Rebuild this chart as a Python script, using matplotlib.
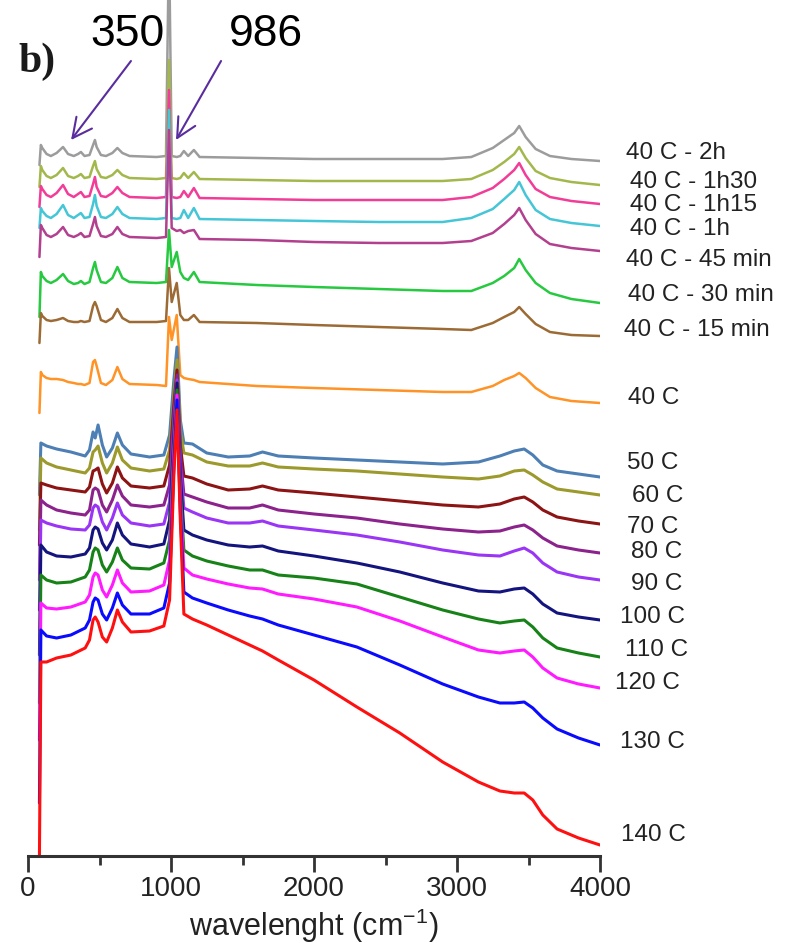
import numpy as np
import matplotlib
matplotlib.use("Agg")
import matplotlib.pyplot as plt

plt.rcParams['font.family'] = ['Liberation Sans', 'DejaVu Sans']
plt.rcParams['mathtext.fontset'] = 'custom'
plt.rcParams['mathtext.rm'] = 'Liberation Sans'
plt.rcParams['mathtext.it'] = 'Liberation Sans:italic'

# ---------------- data (Raman intensity, arbitrary units, stacked) ----------------
# wavenumber anchors (cm-1) read for the 40 C isothermal series
WN_TIME = [80, 90, 100, 130, 160, 200, 245, 280, 320, 350, 370, 395, 430, 455, 468,
           480, 510, 545, 590, 625, 660, 710, 900, 965, 986, 1005, 1040, 1065, 1090,
           1120, 1160, 1200, 1600, 2000, 2450, 2900, 3100, 3250, 3330, 3400, 3435,
           3480, 3550, 3650, 3800, 4000]
# wavenumber anchors (cm-1) read for the heating series
WN_HEAT = [80, 90, 130, 200, 300, 400, 430, 455, 470, 490, 520, 550, 590, 625, 660,
           720, 850, 950, 990, 1020, 1042, 1065, 1090, 1150, 1250, 1400, 1550, 1640,
           1750, 2000, 2300, 2600, 2900, 3150, 3300, 3400, 3470, 3530, 3600, 3700,
           3850, 4000]

labels = ["40 C - 2h", "40 C - 1h30", "40 C - 1h15", "40 C - 1h", "40 C - 45 min",
          "40 C - 30 min", "40 C - 15 min", "40 C",
          "50 C", "60 C", "70 C", "80 C", "90 C", "100 C", "110 C", "120 C",
          "130 C", "140 C"]

i_40_2h = [691, 711, 708, 702, 700, 703, 709, 702, 700, 702, 704, 700, 701, 711, 716,
           709, 701, 700, 703, 708, 703, 700, 699, 700, 916, 700, 699, 700, 705, 700,
           706, 699, 698, 697, 697, 697, 699, 708, 716, 723, 730, 719, 707, 700, 697, 695]
i_40_1h30 = [669, 690, 686, 680, 678, 681, 688, 680, 678, 680, 682, 678, 679, 690, 695,
             687, 679, 678, 681, 686, 681, 678, 677, 678, 796, 678, 677, 678, 683, 678,
             684, 677, 676, 675, 675, 675, 677, 686, 694, 702, 709, 698, 685, 678, 674, 671]
i_40_1h15 = [649, 670, 667, 661, 659, 663, 671, 662, 659, 662, 664, 659, 660, 672, 679,
             669, 660, 659, 663, 669, 663, 659, 658, 659, 766, 659, 658, 659, 665, 659,
             668, 658, 657, 656, 656, 656, 659, 668, 677, 686, 693, 681, 667, 659, 655, 652]
i_40_1h = [628, 648, 645, 640, 638, 642, 651, 641, 638, 641, 643, 638, 639, 652, 661,
           650, 639, 638, 642, 649, 642, 638, 637, 638, 746, 638, 637, 638, 646, 638,
           648, 637, 636, 635, 634, 634, 638, 647, 657, 666, 674, 661, 646, 637, 633, 630]
i_40_45 = [599, 631, 628, 621, 619, 622, 629, 621, 619, 621, 623, 619, 620, 632, 639,
           630, 620, 619, 622, 629, 622, 619, 618, 619, 726, 628, 625, 626, 623, 625,
           626, 617, 616, 614, 613, 613, 615, 623, 632, 641, 648, 636, 622, 612, 608, 605]
i_40_30 = [539, 584, 580, 575, 573, 576, 582, 575, 572, 573, 575, 572, 574, 588, 594,
           586, 574, 573, 578, 589, 578, 574, 573, 574, 626, 589, 604, 584, 578, 576,
           584, 574, 571, 569, 567, 565, 565, 573, 580, 588, 597, 586, 573, 563, 557, 553]
i_40_15 = [513, 543, 540, 536, 535, 536, 538, 535, 534, 534, 535, 534, 535, 550, 554,
           550, 536, 534, 538, 547, 538, 534, 534, 535, 588, 554, 573, 541, 536, 536,
           541, 534, 533, 531, 529, 527, 526, 533, 539, 544, 549, 542, 532, 524, 521, 520]
i_40 = [443, 484, 481, 478, 477, 477, 476, 474, 473, 472, 472, 471, 473, 494, 496,
        490, 473, 471, 476, 489, 477, 472, 471, 470, 539, 516, 541, 481, 478, 477,
        476, 474, 470, 468, 466, 464, 464, 470, 476, 480, 483, 478, 468, 459, 455, 453]

i_50 = [361, 413, 410, 407, 404, 400, 406, 424, 418, 431, 411, 399, 408, 423, 411, 402,
        399, 401, 421, 476, 509, 436, 413, 412, 403, 399, 400, 404, 400, 398, 396, 394,
        392, 394, 400, 405, 407, 401, 391, 385, 382, 379]
i_60 = [326, 398, 393, 389, 386, 383, 388, 404, 406, 410, 393, 383, 393, 409, 396, 388,
        385, 387, 406, 461, 496, 426, 403, 401, 394, 390, 390, 393, 389, 387, 385, 382,
        379, 377, 380, 385, 386, 381, 374, 367, 364, 361]
i_70 = [311, 373, 371, 368, 366, 364, 369, 385, 386, 388, 372, 363, 373, 389, 378, 370,
        368, 370, 391, 451, 486, 411, 380, 378, 372, 366, 367, 370, 366, 363, 359, 355,
        351, 349, 352, 357, 359, 354, 346, 339, 335, 332]
i_80 = [276, 356, 351, 346, 343, 341, 346, 366, 368, 366, 351, 344, 356, 371, 360, 351,
        349, 351, 371, 441, 481, 401, 362, 359, 354, 348, 348, 351, 346, 342, 338, 332,
        327, 324, 325, 329, 331, 326, 318, 310, 306, 303]
i_90 = [246, 336, 333, 330, 327, 326, 331, 348, 351, 349, 334, 326, 338, 353, 341, 333,
        330, 332, 354, 431, 476, 391, 348, 344, 338, 333, 333, 335, 330, 326, 321, 314,
        306, 301, 300, 305, 308, 303, 293, 284, 279, 276]
i_100 = [201, 311, 304, 300, 299, 302, 308, 326, 329, 327, 313, 306, 316, 333, 321, 312,
         309, 312, 336, 421, 473, 381, 326, 321, 316, 311, 309, 310, 305, 300, 293, 284,
         273, 265, 264, 267, 268, 262, 252, 243, 239, 236]
i_110 = [153, 281, 276, 273, 274, 279, 286, 304, 308, 306, 291, 284, 294, 308, 296, 288,
         287, 293, 316, 411, 466, 366, 306, 300, 295, 290, 286, 286, 281, 278, 272, 259,
         246, 237, 233, 235, 236, 229, 218, 208, 203, 199]
i_120 = [116, 253, 248, 247, 249, 254, 261, 279, 283, 281, 266, 259, 271, 286, 273, 264,
         265, 271, 296, 401, 461, 356, 288, 281, 277, 272, 268, 267, 262, 257, 249, 235,
         219, 206, 203, 205, 206, 199, 188, 178, 172, 168]
i_130 = [53, 226, 220, 218, 221, 228, 236, 254, 258, 256, 242, 236, 248, 263, 251, 242,
         242, 248, 273, 391, 456, 346, 264, 258, 253, 246, 240, 237, 231, 221, 209, 191,
         172, 159, 153, 153, 154, 148, 138, 127, 118, 111]
i_140 = [0, 194, 194, 198, 201, 208, 216, 236, 239, 234, 219, 214, 228, 246, 234, 224,
         225, 230, 256, 381, 446, 336, 242, 237, 231, 221, 211, 205, 196, 176, 149, 123,
         94, 74, 65, 63, 63, 56, 41, 27, 18, 11]

series_values = [i_40_2h, i_40_1h30, i_40_1h15, i_40_1h, i_40_45, i_40_30, i_40_15, i_40,
                 i_50, i_60, i_70, i_80, i_90, i_100, i_110, i_120, i_130, i_140]
series_wn = [WN_TIME] * 8 + [WN_HEAT] * 10

# annotated bands
annot_labels = ["350", "986"]

# ---------------- styles / layout ----------------
colors = ['#9c9c9c', '#a3b84c', '#f23d98', '#45c6d6', '#b3408f', '#27c940', '#9c6b35',
          '#ff9326', '#4d7fb5', '#9c9a2c', '#8c1414', '#8c238c', '#9a35f5', '#14147f',
          '#178217', '#ff1aff', '#0a0aff', '#ff1010']
widths = [1.8] * 8 + [2.2] * 10
label_px = [626, 630, 630, 630, 626, 628, 624, 628, 627, 632, 627, 631, 631, 620, 625,
            615, 620, 621]
label_py = [153, 182, 205, 229, 260, 295, 330, 398, 463, 496, 527, 552, 584, 617, 650,
            683, 742, 835]

W, H = 810, 943
fig = plt.figure(figsize=(W / 100, H / 100), dpi=100)
ax = fig.add_axes([28 / W, 87 / H, 572 / W, 856 / H])

for wn, vals, c, lw in zip(series_wn, series_values, colors, widths):
    ax.plot(wn, vals, color=c, lw=lw, solid_joinstyle='round', solid_capstyle='round')

ax.set_xlim(0, 4000)
ax.set_ylim(0, 856)
for s in ['left', 'top', 'right']:
    ax.spines[s].set_visible(False)
ax.spines['bottom'].set_linewidth(2.2)
ax.spines['bottom'].set_color('#333333')
ax.set_yticks([])
ax.set_xticks([0, 1000, 2000, 3000, 4000])
ax.set_xticks([500, 1500, 2500, 3500], minor=True)
ax.tick_params(axis='x', which='major', length=11.5, width=2, direction='out',
               labelsize=20, pad=3, color='#333333', labelcolor='#222222')
ax.tick_params(axis='x', which='minor', length=6.5, width=2, direction='out',
               color='#333333')
ax.set_xlabel('wavelenght (cm$^{-1}$)', fontsize=22, labelpad=3, color='#222222')

# right-side series labels
for lab, px, py in zip(labels, label_px, label_py):
    fig.text(px / W, 1 - py / H, lab, fontsize=17.5, ha='left', va='center',
             color='#222222')

# band annotations
arrow_kw = dict(arrowstyle='->,head_length=0.7,head_width=0.35', color='#5a2d9e',
                lw=1.5, mutation_scale=20, shrinkA=0, shrinkB=0)
ax.annotate('', xy=(301, 716), xytext=(720, 795), arrowprops=arrow_kw)
ax.annotate('', xy=(1035, 716), xytext=(1350, 795), arrowprops=arrow_kw)
ax.text(699, 822, annot_labels[0], fontsize=32, ha='center', va='center', color='black')
ax.text(1664, 822, annot_labels[1], fontsize=32, ha='center', va='center', color='black')

fig.text(18 / W, 1 - 62 / H, 'b)', fontfamily='Liberation Serif', fontweight='bold',
         fontsize=30, ha='left', va='center', color='#1a1a1a')

fig.savefig('out.png', dpi=100)
